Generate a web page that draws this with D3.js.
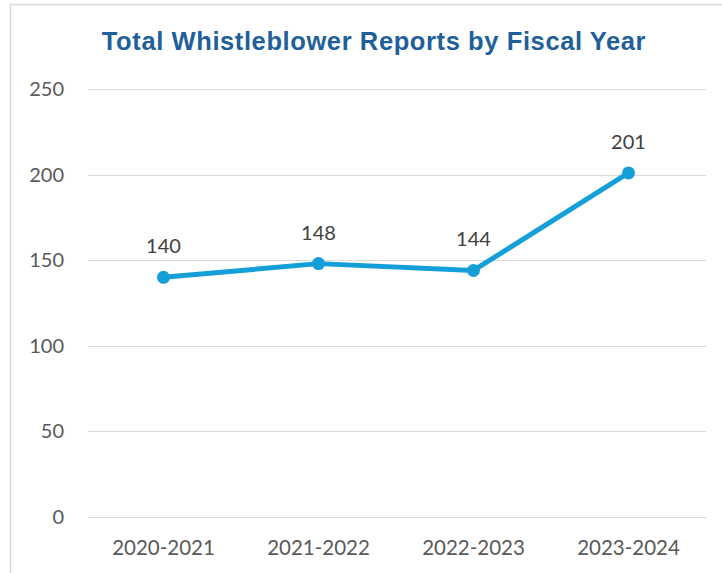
<!DOCTYPE html>
<html>
<head>
<meta charset="utf-8">
<script src="https://cdn.jsdelivr.net/npm/d3@7"></script>
<style>
  html, body { margin: 0; padding: 0; background: #fff; }
  svg { display: block; }
</style>
</head>
<body>
<script>
// Report counts per fiscal year
const fiscalYears = ["2020-2021", "2021-2022", "2022-2023", "2023-2024"];
const reportCounts = [140, 148, 144, 201];
const yTicks = [0, 50, 100, 150, 200, 250];
const chartTitle = "Total Whistleblower Reports by Fiscal Year";

const W = 722, H = 573;
const margin = { top: 89, right: 16, bottom: 56, left: 86 };

const svg = d3.select("body").append("svg")
  .attr("width", W).attr("height", H);

// Chart area frame
svg.append("rect")
  .attr("x", 10.5).attr("y", 4.5)
  .attr("width", W + 20).attr("height", H + 20)
  .attr("fill", "#fff").attr("stroke", "#d9d9d9").attr("stroke-width", 1.5);

const x = d3.scaleBand()
  .domain(fiscalYears)
  .range([margin.left, W - margin.right]);

const y = d3.scaleLinear()
  .domain([0, 250])
  .range([517, margin.top]);

// Title
svg.append("text")
  .attr("x", 374).attr("y", 49.5)
  .attr("text-anchor", "middle")
  .attr("font-family", "Liberation Sans, Arial, sans-serif")
  .attr("font-weight", "bold")
  .attr("font-size", 25.5)
  .attr("letter-spacing", 0.6)
  .attr("fill", "#215f9a")
  .text(chartTitle);

// Horizontal gridlines
svg.append("g")
  .selectAll("line")
  .data(yTicks)
  .join("line")
  .attr("x1", margin.left + 2).attr("x2", W - margin.right)
  .attr("y1", d => Math.round(y(d)) + 0.5).attr("y2", d => Math.round(y(d)) + 0.5)
  .attr("stroke", "#d9d9d9").attr("stroke-width", 1.2);

// Y axis labels
const yAxis = d3.axisLeft(y).tickValues(yTicks).tickSize(0).tickPadding(22);
const gy = svg.append("g")
  .attr("transform", `translate(${margin.left},0)`)
  .call(yAxis);
gy.select(".domain").remove();
gy.selectAll("text")
  .attr("font-family", "Lato, Carlito, Calibri, sans-serif")
  .attr("font-size", 20)
  .attr("fill", "#595959");

// X axis labels
const xAxis = d3.axisBottom(x).tickSize(0).tickPadding(23);
const gx = svg.append("g")
  .attr("transform", `translate(0,${y(0)})`)
  .call(xAxis);
gx.select(".domain").remove();
gx.selectAll("text")
  .attr("font-family", "Lato, Carlito, Calibri, sans-serif")
  .attr("font-size", 20.5)
  .attr("fill", "#595959");

const cx = d => x(d) + x.bandwidth() / 2;
const pts = fiscalYears.map((f, i) => ({ f, v: reportCounts[i] }));

// Line
svg.append("path")
  .datum(pts)
  .attr("fill", "none")
  .attr("stroke", "#159fd8")
  .attr("stroke-width", 5)
  .attr("stroke-linejoin", "round")
  .attr("d", d3.line().x(d => cx(d.f)).y(d => y(d.v)));

// Markers
svg.append("g")
  .selectAll("circle")
  .data(pts)
  .join("circle")
  .attr("cx", d => cx(d.f))
  .attr("cy", d => y(d.v))
  .attr("r", 6.5)
  .attr("fill", "#159fd8");

// Value labels
svg.append("g")
  .selectAll("text")
  .data(pts)
  .join("text")
  .attr("x", d => cx(d.f))
  .attr("y", d => y(d.v) - 24)
  .attr("text-anchor", "middle")
  .attr("font-family", "Lato, Carlito, Calibri, sans-serif")
  .attr("font-size", 20)
  .attr("fill", "#404040")
  .text(d => d.v);
</script>
</body>
</html>
